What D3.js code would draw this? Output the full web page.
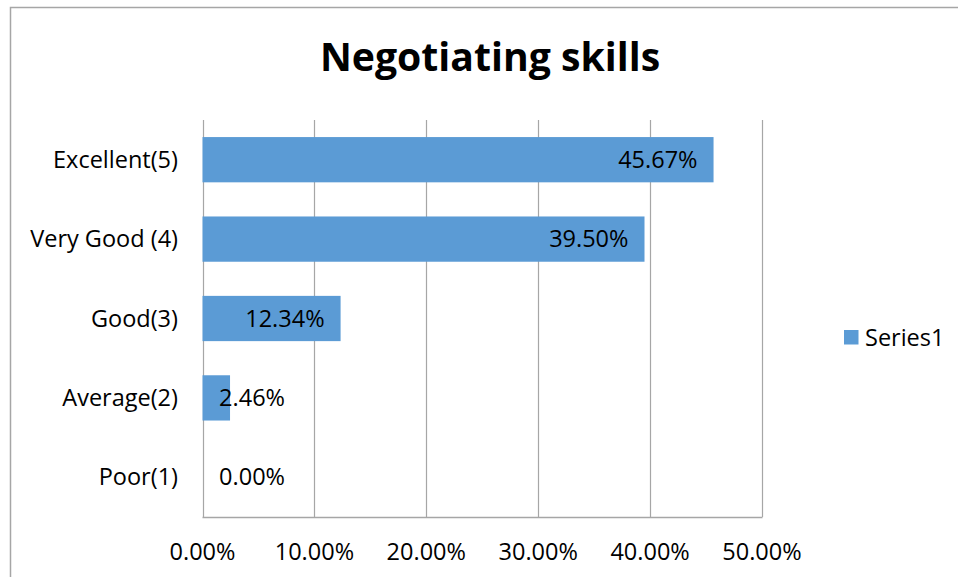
<!DOCTYPE html>
<html><head><meta charset="utf-8">
<script src="https://cdn.jsdelivr.net/npm/d3@7"></script>
<style>body{margin:0;background:#fff}svg{display:block}</style>
</head><body><svg id="c" width="958" height="577"></svg>
<script>
const categories = ["Excellent(5)", "Very Good (4)", "Good(3)", "Average(2)", "Poor(1)"];
const values = [45.67, 39.50, 12.34, 2.46, 0.00];
const xTicks = [0, 10, 20, 30, 40, 50];
const seriesName = "Series1";
const title = "Negotiating skills";

(function(){
const font = "'Open Sans', sans-serif";
const fs = 23.5;
const svg = d3.select("#c");
svg.append("rect").attr("x",10.5).attr("y",7.5).attr("width",960).attr("height",600)
  .attr("fill","#fff").attr("stroke","#a6a6a6").attr("stroke-width",1.5);

const pLeft=202.5, pRight=762, pTop=120, pBottom=517;
const x = d3.scaleLinear().domain([0,50]).range([pLeft,pRight]);
const y = d3.scaleBand().domain(categories).range([pTop,pBottom]).paddingInner(0.43).paddingOuter(0.215);

svg.append("text").attr("x",490).attr("y",71).attr("text-anchor","middle")
  .attr("font-family",font).attr("font-weight","bold").attr("font-size",39.2).attr("fill","#000").text(title);

const g = svg.append("g");
g.selectAll("line.grid").data(xTicks).join("line").attr("class","grid")
  .attr("x1",d=>Math.round(x(d))+0.5).attr("x2",d=>Math.round(x(d))+0.5)
  .attr("y1",pTop).attr("y2",pBottom).attr("stroke","#a6a6a6").attr("stroke-width",1.2);
g.append("line").attr("x1",pLeft).attr("x2",pRight+0.5).attr("y1",pBottom+0.5).attr("y2",pBottom+0.5)
  .attr("stroke","#a6a6a6").attr("stroke-width",1.5);

g.selectAll("rect.bar").data(values).join("rect").attr("class","bar")
  .attr("x",x(0)).attr("y",(d,i)=>y(categories[i])).attr("width",d=>x(d)-x(0))
  .attr("height",y.bandwidth()).attr("fill","#5b9bd5");

g.selectAll("text.val").data(values).join("text").attr("class","val")
  .attr("x",d=>Math.max(x(d)-16, x(0)+82.5)).attr("y",(d,i)=>y(categories[i])+y.bandwidth()/2+8)
  .attr("text-anchor","end").attr("font-family",font).attr("font-size",fs).attr("fill","#000")
  .text(d=>d.toFixed(2)+"%");

g.selectAll("text.cat").data(categories).join("text").attr("class","cat")
  .attr("x",178).attr("y",d=>y(d)+y.bandwidth()/2+8).attr("text-anchor","end")
  .attr("font-family",font).attr("font-size",fs).attr("fill","#000").text(d=>d);

g.selectAll("text.xt").data(xTicks).join("text").attr("class","xt")
  .attr("x",d=>x(d)).attr("y",560).attr("text-anchor","middle")
  .attr("font-family",font).attr("font-size",fs).attr("fill","#000").text(d=>d.toFixed(2)+"%");

svg.append("rect").attr("x",844).attr("y",330).attr("width",14.5).attr("height",14.5).attr("fill","#5b9bd5");
svg.append("text").attr("x",865).attr("y",346).attr("font-family",font).attr("font-size",fs).attr("fill","#000").text(seriesName);
})();
</script></body></html>
